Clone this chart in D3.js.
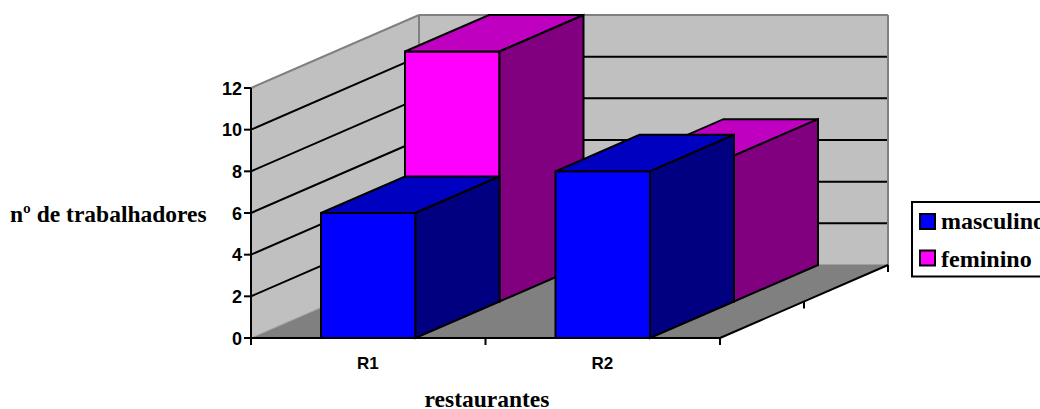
<!DOCTYPE html>
<html>
<head>
<meta charset="utf-8">
<style>
  html, body { margin: 0; padding: 0; background: #fff; overflow: hidden; }
  svg { display: block; }
</style>
<script src="https://cdn.jsdelivr.net/npm/d3@7"></script>
</head>
<body>
<div id="chart"></div>
<script>
const categories = ["R1", "R2"];
const masculino = [6, 8];
const feminino = [12, 7];
const yTicks = [0, 2, 4, 6, 8, 10, 12];
const seriesNames = ["masculino", "feminino"];

const width = 1040;
const height = 409;
const SERIF = "'Liberation Serif', 'Times New Roman', serif";
const SANS = "'Liberation Sans', Arial, sans-serif";

const svg = d3.select("#chart")
  .append("svg")
  .attr("width", width)
  .attr("height", height)
  .attr("viewBox", [0, 0, width, height]);

// front plane scales
const x = d3.scaleBand().domain(categories).range([251, 720]).paddingInner(0.597).paddingOuter(0.2985);
const xEdge = d3.scaleLinear().domain([0, categories.length]).range([251, 720]);
const y = d3.scaleLinear().domain([0, 12]).range([338, 88]);
// depth goes up and to the right, one unit per series
const depthX = d3.scaleLinear().domain([0, 2]).range([0, 168]);
const depthY = d3.scaleLinear().domain([0, 2]).range([0, -73]);

const pt = (px, v, z) => [px + depthX(z), y(v) + depthY(z)];
const line = d3.line();
const poly = (pts, fill, stroke, sw) => svg.append("path")
  .attr("d", line(pts) + "Z")
  .attr("fill", fill)
  .attr("stroke", stroke || "none")
  .attr("stroke-width", sw || 0)
  .attr("stroke-linejoin", "miter");
const seg = (a, b, stroke, sw) => svg.append("path")
  .attr("d", line([a, b]))
  .attr("fill", "none")
  .attr("stroke", stroke)
  .attr("stroke-width", sw);

const x0 = xEdge(0);
const x1 = xEdge(categories.length);

// walls and floor
poly([pt(x0, 0, 0), pt(x0, 12, 0), pt(x0, 12, 2), pt(x0, 0, 2)], "#c0c0c0");
poly([pt(x0, 0, 2), pt(x0, 12, 2), pt(x1, 12, 2), pt(x1, 0, 2)], "#c0c0c0");
poly([pt(x0, 0, 0), pt(x0, 0, 2), pt(x1, 0, 2), pt(x1, 0, 0)], "#808080");

// gridlines
yTicks.filter(t => t > 0 && t < 12).forEach(t => {
  seg(pt(x0, t, 0), pt(x0, t, 2), "#000", 2);
  seg(pt(x0, t, 2), pt(x1, t, 2), "#000", 2);
});
seg(pt(x0, 12, 0), pt(x0, 12, 2), "#808080", 2);
seg(pt(x0, 12, 2), pt(x1, 12, 2), "#808080", 2);
seg(pt(x0, 0, 2), pt(x0, 12, 2), "#808080", 2);
seg(pt(x1, 0, 2), pt(x1, 12, 2), "#808080", 2);
seg(pt(x0, 0, 0), pt(x0, 0, 2), "#a0a0a0", 1);
seg(pt(x0, 0, 2), pt(x1, 0, 2), "#808080", 1);

// axes
seg(pt(x0, 0, 0), pt(x0, 12, 0), "#000", 2);
seg(pt(x0, 0, 0), pt(x1, 0, 0), "#000", 2);
seg(pt(x1, 0, 0), pt(x1, 0, 2), "#000", 2);

yTicks.forEach(t => {
  const [px, py] = pt(x0, t, 0);
  seg([px - 7, py], [px, py], "#000", 2);
  svg.append("text")
    .attr("x", px - 9)
    .attr("y", py + 6.5)
    .attr("text-anchor", "end")
    .attr("font-family", SANS)
    .attr("font-weight", "bold")
    .attr("font-size", 18)
    .attr("fill", "#000")
    .text(t);
});

d3.range(categories.length + 1).forEach(i => {
  const [px, py] = pt(xEdge(i), 0, 0);
  seg([px, py], [px, py + 7], "#000", 2);
});
[1, 2].forEach(z => {
  const [px, py] = pt(x1, 0, z);
  seg([px, py], [px, py + 7], "#000", 2);
});

categories.forEach(c => {
  svg.append("text")
    .attr("x", x(c) + x.bandwidth() / 2 - 0.5)
    .attr("y", 369)
    .attr("text-anchor", "middle")
    .attr("font-family", SANS)
    .attr("font-weight", "bold")
    .attr("font-size", 17)
    .attr("fill", "#000")
    .text(c);
});

// one 3D column: front, top and side faces
function bar(c, v, z, colors) {
  const l = x(c);
  const r = l + x.bandwidth();
  poly([pt(l, 0, z), pt(l, v, z), pt(r, v, z), pt(r, 0, z)], colors[0], "#000", 2);
  poly([pt(l, v, z), pt(l, v, z + 1), pt(r, v, z + 1), pt(r, v, z)], colors[1], "#000", 2);
  poly([pt(r, 0, z), pt(r, v, z), pt(r, v, z + 1), pt(r, 0, z + 1)], colors[2], "#000", 2);
}

const blues = ["#0000ff", "#0000c0", "#000080"];
const pinks = ["#ff00ff", "#c000c0", "#800080"];

// painter's order, back row first within each category
categories.forEach((c, i) => {
  bar(c, feminino[i], 1, pinks);
  bar(c, masculino[i], 0, blues);
});

// titles
svg.append("text")
  .attr("x", 10)
  .attr("y", 222)
  .attr("font-family", SERIF)
  .attr("font-weight", "bold")
  .attr("font-size", 23.5)
  .attr("fill", "#000")
  .text("nº de trabalhadores");

svg.append("text")
  .attr("x", 487)
  .attr("y", 406.5)
  .attr("text-anchor", "middle")
  .attr("font-family", SERIF)
  .attr("font-weight", "bold")
  .attr("font-size", 23.5)
  .attr("fill", "#000")
  .text("restaurantes");

// legend, runs off the right edge as in the original
svg.append("rect")
  .attr("x", 912)
  .attr("y", 202)
  .attr("width", 160)
  .attr("height", 74.5)
  .attr("fill", "#fff")
  .attr("stroke", "#000")
  .attr("stroke-width", 2);

seriesNames.forEach((name, i) => {
  const top = 214 + i * 36.5;
  svg.append("rect")
    .attr("x", 920)
    .attr("y", top)
    .attr("width", 15)
    .attr("height", 15)
    .attr("fill", i === 0 ? blues[0] : pinks[0])
    .attr("stroke", "#000")
    .attr("stroke-width", 2);
  svg.append("text")
    .attr("x", 941)
    .attr("y", 229 + i * 37.5)
    .attr("font-family", SERIF)
    .attr("font-weight", "bold")
    .attr("font-size", 24)
    .attr("fill", "#000")
    .text(name);
});
</script>
</body>
</html>
